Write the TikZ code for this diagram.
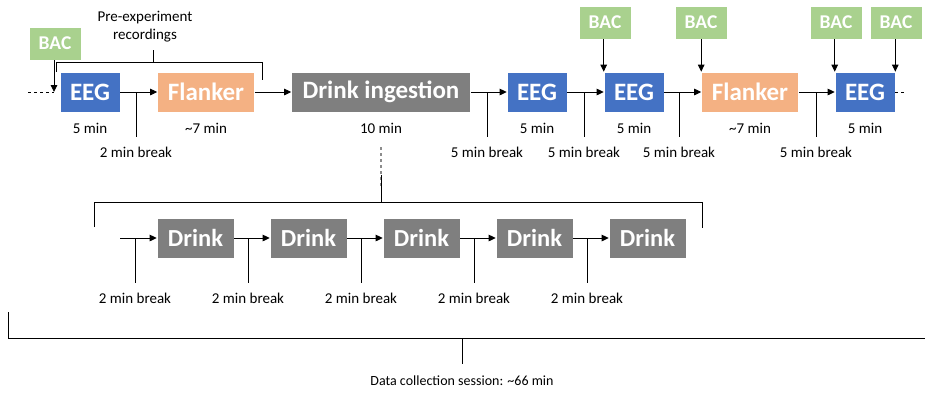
\documentclass[tikz,border=0pt]{standalone}
\usepackage{fontspec}
\setmainfont{Carlito}
\usetikzlibrary{arrows.meta}
\definecolor{eegblue}{HTML}{4472C4}
\definecolor{flankorange}{HTML}{F4B183}
\definecolor{bacgreen}{HTML}{A9D18E}
\definecolor{drinkgrey}{HTML}{7F7F7F}
\definecolor{dashgrey}{HTML}{8C8C8C}

\begin{document}
\begin{tikzpicture}[x=1pt,y=-1pt,
  box/.style={draw=white, line width=0.6pt, inner sep=0pt, minimum height=40pt,
              text=white, font=\fontsize{25}{28}\selectfont\bfseries},
  eeg/.style={box, fill=eegblue, minimum width=60pt},
  flk/.style={box, fill=flankorange, minimum width=97pt},
  ingest/.style={box, fill=drinkgrey, minimum width=179pt},
  drinkbox/.style={box, fill=drinkgrey, minimum width=77pt,
                   font=\fontsize{24.5}{28}\selectfont\bfseries},
  bac/.style={box, fill=bacgreen, minimum width=52pt, minimum height=33pt,
              font=\fontsize{19.5}{23}\selectfont\bfseries},
  lbl/.style={inner sep=0pt, font=\fontsize{15}{18}\selectfont},
  wire/.style={line width=0.9pt},
  arr/.style={wire, -{Triangle[length=7pt,width=6.5pt]}},
]
\useasboundingbox (0,0) rectangle (925,392);

% ---------- main timeline ----------
\node[eeg]    (eeg1)   at (90,92)    {EEG};
\node[flk]    (fl1)    at (206,92)   {Flanker};
\node[ingest] (ing)    at (381,92)   {Drink ingestion};
\node[eeg]    (eeg2)   at (537,92)   {EEG};
\node[eeg]    (eeg3)   at (634,92)   {EEG};
\node[flk]    (fl2)    at (750,92)   {Flanker};
\node[eeg]    (eeg4)   at (865,92)   {EEG};

% durations
\node[lbl] (d1) at (90,128)  {5 min};
\node[lbl] (d2) at (206,128) {\textasciitilde 7 min};
\node[lbl] (d3) at (381,128) {10 min};
\node[lbl] (d4) at (537,128) {5 min};
\node[lbl] (d5) at (634,128) {5 min};
\node[lbl] (d6) at (750,128) {\textasciitilde 7 min};
\node[lbl] (d7) at (865,128) {5 min};

% BAC measurements
\node[bac] (bac0) at (55,43.5)  {BAC};
\node[bac] (bac1) at (605,22.5) {BAC};
\node[bac] (bac2) at (701,22.5) {BAC};
\node[bac] (bac3) at (836,22.5) {BAC};
\node[bac] (bac4) at (896,22.5) {BAC};

% session start (dashed lead-in)
\coordinate (lead0) at (28,92);
\coordinate (in0)   at (54,92);
\draw[wire, dashed, dash pattern=on 3pt off 3pt] (lead0) -- (in0);
\draw[arr] (bac0.south -| in0) -- (in0);

% connectors between stages
\draw[arr] (eeg1.east) -- (fl1.west);
\draw[arr] (fl1.east)  -- (ing.west);
\draw[arr] (ing.east)  -- (eeg2.west);
\draw[arr] (eeg2.east) -- (eeg3.west);
\draw[arr] (eeg3.east) -- (fl2.west);
\draw[arr] (fl2.east)  -- (eeg4.west);
\coordinate (tail) at (907,92);
\draw[wire, dashed, dash pattern=on 3pt off 3pt] (eeg4.east) -- (tail);

% BAC arrows into box corners
\draw[arr] (bac1.south -| eeg3.north west) -- (eeg3.north west);
\draw[arr] (bac2.south -| fl2.north west)  -- (fl2.north west);
\draw[arr] (bac3.south -| eeg4.north west) -- (eeg4.north west);
\draw[arr] (bac4.south -| eeg4.north east) -- (eeg4.north east);

% breaks on the main timeline
\foreach \x/\txt/\n in {136/2 min break/1, 487/5 min break/2, 584/5 min break/3,
                        679/5 min break/4, 816/5 min break/5}{
  \coordinate (tk\n) at (\x,92);
  \draw[wire] (tk\n) -- ++(0,45);
  \node[lbl] (br\n) at (\x,152) {\txt};
}

% pre-experiment bracket
\coordinate (pl) at (56,72);
\coordinate (pr) at (262,80);
\draw[wire] (pl) -- (56,62) -- (262,62) -- (pr);
\draw[wire] (153,62) -- (153,50);
\node[lbl, align=center] (pre) at (145,27) {Pre-experiment\\recordings};

% ---------- drink detail ----------
\coordinate (ingtop) at (381,147);
\coordinate (ingmid) at (381,187);
\coordinate (ingtick) at (381,175);
\coordinate (ingbr) at (381,202);
\draw[dashgrey, line width=1.2pt, dash pattern=on 3pt off 3pt] (ingtop) -- (ingmid);
\draw[wire] (ingtick) -- (ingbr);
\draw[wire] (94,227) -- (94,202) -- (702,202) -- (702,228);

\foreach \i in {1,...,5}{
  \node[drinkbox] (dr\i) at ({195.5+113*(\i-1)},238) {Drink};
}
\coordinate (dr0) at (120,238);
\draw[arr] (dr0) -- (dr1.west);
\foreach \a/\b in {1/2,2/3,3/4,4/5}{
  \draw[arr] (dr\a.east) -- (dr\b.west);
}
\foreach \i in {1,...,5}{
  \coordinate (dt\i) at ({135+113*(\i-1)},238);
  \draw[wire] (dt\i) -- ++(0,45);
  \node[lbl] (db\i) at ({135+113*(\i-1)},298) {2 min break};
}

% ---------- whole session bracket ----------
\coordinate (sl) at (8,312);
\coordinate (sr) at (925,338);
\draw[wire] (sl) -- (8,338) -- (sr);
\draw[wire] (462,338) -- (462,364);
\node[lbl, font=\fontsize{14}{17}\selectfont] (sess) at (462,381) {Data collection session: \textasciitilde 66 min};
\end{tikzpicture}
\end{document}
